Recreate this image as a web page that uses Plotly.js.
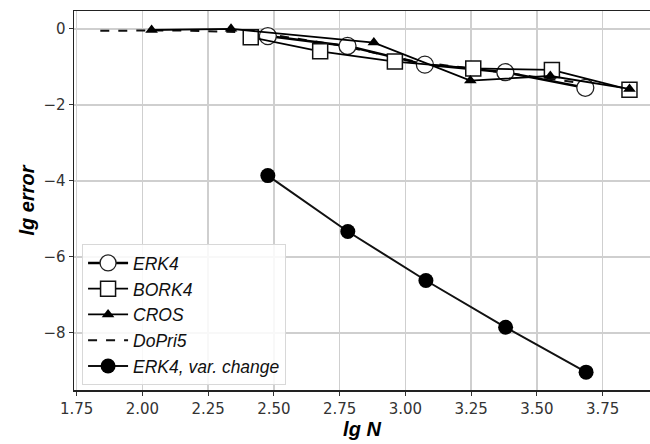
<!DOCTYPE html>
<html>
<head>
<meta charset="utf-8">
<script src="https://cdn.plot.ly/plotly-3.0.1.min.js"></script>
<style>html,body{margin:0;padding:0;background:#fff;}#chart{width:650px;height:444px;}</style>
</head>
<body>
<div id="chart"></div>
<script>
// Data (lg N vs lg error)
const erk4X = [2.477, 2.780, 3.074, 3.380, 3.684];
const erk4Y = [-0.19, -0.45, -0.94, -1.14, -1.55];

const bork4X = [2.412, 2.676, 2.960, 3.258, 3.557, 3.852];
const bork4Y = [-0.22, -0.59, -0.86, -1.04, -1.08, -1.60];

const crosX = [2.035, 2.337, 2.880, 3.247, 3.551, 3.852];
const crosY = [-0.03, 0.00, -0.36, -1.36, -1.24, -1.58];

const dopriX = [1.84, 2.14, 2.44, 2.74, 3.04, 3.34, 3.64];
const dopriY = [-0.05, -0.04, -0.10, -0.42, -0.86, -1.12, -1.40];

const erkVarX = [2.477, 2.781, 3.078, 3.381, 3.687];
const erkVarY = [-3.86, -5.33, -6.62, -7.85, -9.03];

const names = ["ERK4", "BORK4", "CROS", "DoPri5", "ERK4, var. change"];
const xTicks = [1.75, 2.00, 2.25, 2.50, 2.75, 3.00, 3.25, 3.50, 3.75];
const xTickText = ["1.75", "2.00", "2.25", "2.50", "2.75", "3.00", "3.25", "3.50", "3.75"];
const yTicks = [0, -2, -4, -6, -8];
const yTickText = ["0", "\u22122", "\u22124", "\u22126", "\u22128"];

const black = "#000000";
const traces = [
  {x: erk4X, y: erk4Y, name: names[0], mode: "lines+markers",
   line: {color: black, width: 2.5},
   marker: {symbol: "circle", size: 17, color: "#ffffff", line: {color: "#222", width: 1.3}}},
  {x: bork4X, y: bork4Y, name: names[1], mode: "lines+markers",
   line: {color: black, width: 1.8},
   marker: {symbol: "square", size: 15, color: "#ffffff", line: {color: "#111", width: 1.5}}},
  {x: crosX, y: crosY, name: names[2], mode: "lines+markers",
   line: {color: black, width: 1.8},
   marker: {symbol: "triangle-up", size: 11, color: black}},
  {x: dopriX, y: dopriY, name: names[3], mode: "lines",
   line: {color: "#111", width: 2, dash: "dash"}},
  {x: erkVarX, y: erkVarY, name: names[4], mode: "lines+markers",
   line: {color: "#111", width: 2},
   marker: {symbol: "circle", size: 15, color: black}}
];
// draw order: put DoPri5 beneath others
const ordered = [traces[3], traces[0], traces[1], traces[2], traces[4]];
ordered[0].legendrank = 4; ordered[1].legendrank = 1; ordered[2].legendrank = 2; ordered[3].legendrank = 3; ordered[4].legendrank = 5;

const axisCommon = {
  showline: true, linecolor: "#222", linewidth: 1.5, mirror: true,
  showgrid: true, gridcolor: "#cfcfcf", gridwidth: 1.5,
  zeroline: false, ticks: "outside", ticklen: 4, tickwidth: 1, tickcolor: "#333",
  tickfont: {family: "DejaVu Sans", size: 15, color: "#333"}
};

const layout = {
  width: 650, height: 444,
  margin: {l: 74, r: 0, t: 11, b: 54},
  paper_bgcolor: "#ffffff", plot_bgcolor: "#ffffff",
  showlegend: true,
  xaxis: Object.assign({}, axisCommon, {
    range: [1.74, 3.93], tickvals: xTicks, ticktext: xTickText,
    title: {text: "lg N", standoff: 2,
      font: {family: "Liberation Sans", size: 20, color: "#000", style: "italic", weight: "bold"}}
  }),
  yaxis: Object.assign({}, axisCommon, {
    range: [-9.5, 0.47], tickvals: yTicks, ticktext: yTickText,
    title: {text: "lg error", standoff: 3,
      font: {family: "Liberation Sans", size: 20, color: "#000", style: "italic", weight: "bold"}}
  }),
  legend: {
    x: 0.014, y: 0.013, xanchor: "left", yanchor: "bottom",
    bgcolor: "rgba(255,255,255,0.85)", bordercolor: "#d8d8d8", borderwidth: 1,
    font: {family: "Liberation Sans", size: 17.5, color: "#111", style: "italic"},
    itemwidth: 40, tracegroupgap: 0, traceorder: "normal"
  }
};

Plotly.newPlot("chart", ordered, layout, {displayModeBar: false, staticPlot: true});
</script>
</body>
</html>
